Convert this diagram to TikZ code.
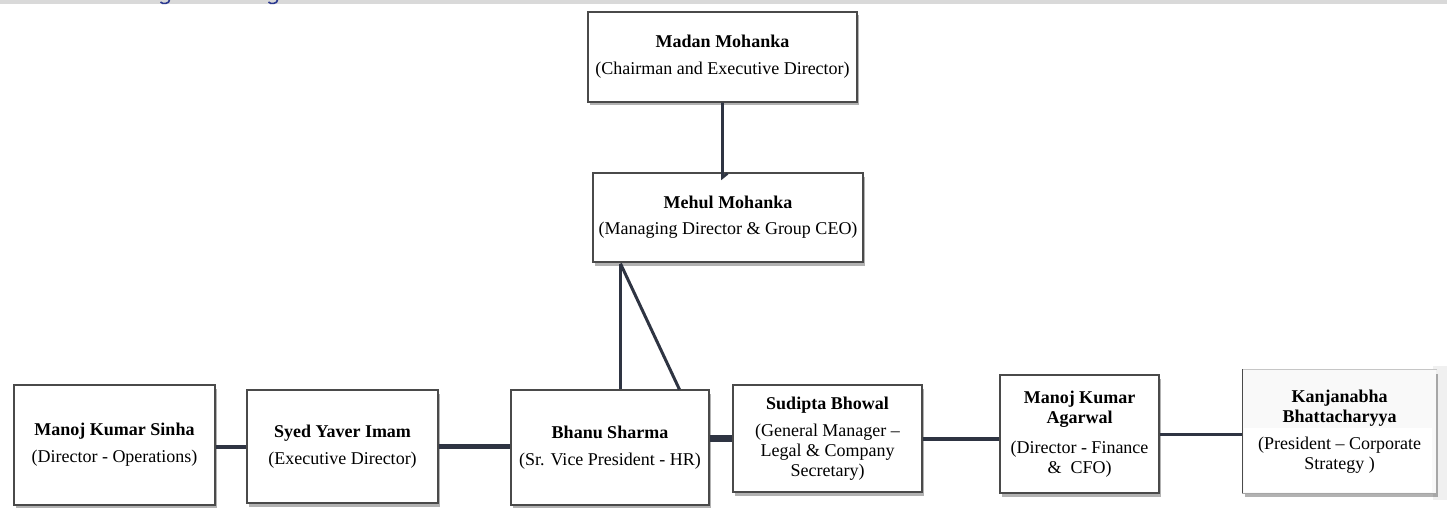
\documentclass[tikz,border=0pt]{standalone}
\usepackage{fontspec}
\setmainfont{Liberation Serif}
\usetikzlibrary{calc,shadows}
\definecolor{linkcol}{HTML}{2E3442}
\definecolor{boxline}{HTML}{4A4A4A}
\definecolor{bandgray}{HTML}{D9D9D9}
\definecolor{headblue}{HTML}{2B3990}
\tikzset{
  orgbox/.style={rectangle, draw=boxline, line width=1.1pt, fill=white,
    inner sep=2pt, align=center, font=\fontsize{18}{20}\selectfont,
    drop shadow={shadow xshift=2pt, shadow yshift=-3.5pt, fill=black, opacity=0.3}},
  link/.style={draw=linkcol, line cap=butt},
}
\newcommand{\orgname}[1]{\textbf{#1}}
\begin{document}
\begin{tikzpicture}[x=1pt,y=-1pt]
\useasboundingbox (0,0) rectangle (1447,508);
% header band with the tails of its title
\fill[bandgray] (0,0) rectangle (1447,4.5);
\draw[headblue, line width=1.6pt] (169.5,0) .. controls (169.5,4) and (162,4.5) .. (160.5,2);
\draw[headblue, line width=1.6pt] (277.5,0) .. controls (277.5,4) and (270,4.5) .. (268.5,2);

% boxes
\node[orgbox, minimum width=269pt, minimum height=90pt] (madan) at (722.5,57)
  {\orgname{Madan Mohanka}\\[7pt](Chairman and Executive Director)};
\node[orgbox, minimum width=270pt, minimum height=89pt] (mehul) at (728,217.5)
  {\orgname{Mehul Mohanka}\\[6pt](Managing Director \& Group CEO)};
\node[orgbox, minimum width=201pt, minimum height=120pt] (sinha) at (114.5,445)
  {\orgname{Manoj Kumar Sinha}\\[7pt](Director - Operations)};
\node[orgbox, minimum width=191pt, minimum height=113pt] (syed) at (342.5,446.5)
  {\orgname{Syed Yaver Imam}\\[7pt](Executive Director)};
\node[orgbox, minimum width=198pt, minimum height=115pt] (bhanu) at (610,447.5)
  {\orgname{Bhanu Sharma}\\[7pt](Sr. Vice President - HR)};
\node[orgbox, minimum width=189pt, minimum height=107pt] (sudipta) at (827.5,438.5)
  {\orgname{Sudipta Bhowal}\\[7pt](General Manager --\\Legal \& Company\\Secretary)};
\node[orgbox, minimum width=159pt, minimum height=118pt] (agarwal) at (1079.5,434)
  {\orgname{Manoj Kumar}\\\orgname{Agarwal}\\[10pt](Director - Finance\\\&\ \ CFO)};
% right-most box: its right edge runs off into a pale strip
\fill[gray!12] (1433,366) rectangle (1447,500);
\node[orgbox, draw=none, fill=gray!5, minimum width=193pt, minimum height=123pt] (kanj) at (1339.5,431.5) {};
\fill[white] (1244,428) rectangle (1432,492);
\draw[gray!45, line width=1.1pt] (kanj.north east) -- (kanj.north west);
\draw[boxline, line width=1.1pt] (kanj.north west) -- (kanj.south west);
\draw[gray!70, line width=1.1pt] (kanj.south west) -- (kanj.south east);
\node[align=center, font=\fontsize{18}{20}\selectfont] at (kanj)
  {\orgname{Kanjanabha}\\\orgname{Bhattacharyya}\\[7pt](President -- Corporate\\Strategy )};

% connectors
\draw[link, line width=2.6pt]
  (madan.south) -- ($(madan.south |- mehul.north)+(0,5)$) -- ($(madan.south |- mehul.north)+(5,1)$);
\coordinate (fork) at ($(mehul.south west)+(28,1)$);
\draw[link, line width=3.6pt] (fork) -- (fork |- bhanu.north);
\draw[link, line width=3pt] (fork) -- ($(bhanu.north west)+(169,0)$);
\draw[link, line width=4pt] (sinha.east |- syed.west) -- (syed.west);
\draw[link, line width=5pt] (syed.east) -- (syed.east -| bhanu.west);
\draw[link, line width=7pt] (bhanu.east |- sudipta.west) -- (sudipta.west);
\draw[link, line width=4pt] (sudipta.east) -- (sudipta.east -| agarwal.west);
\draw[link, line width=3pt] (agarwal.east) -- (agarwal.east -| kanj.west);
\end{tikzpicture}
\end{document}
